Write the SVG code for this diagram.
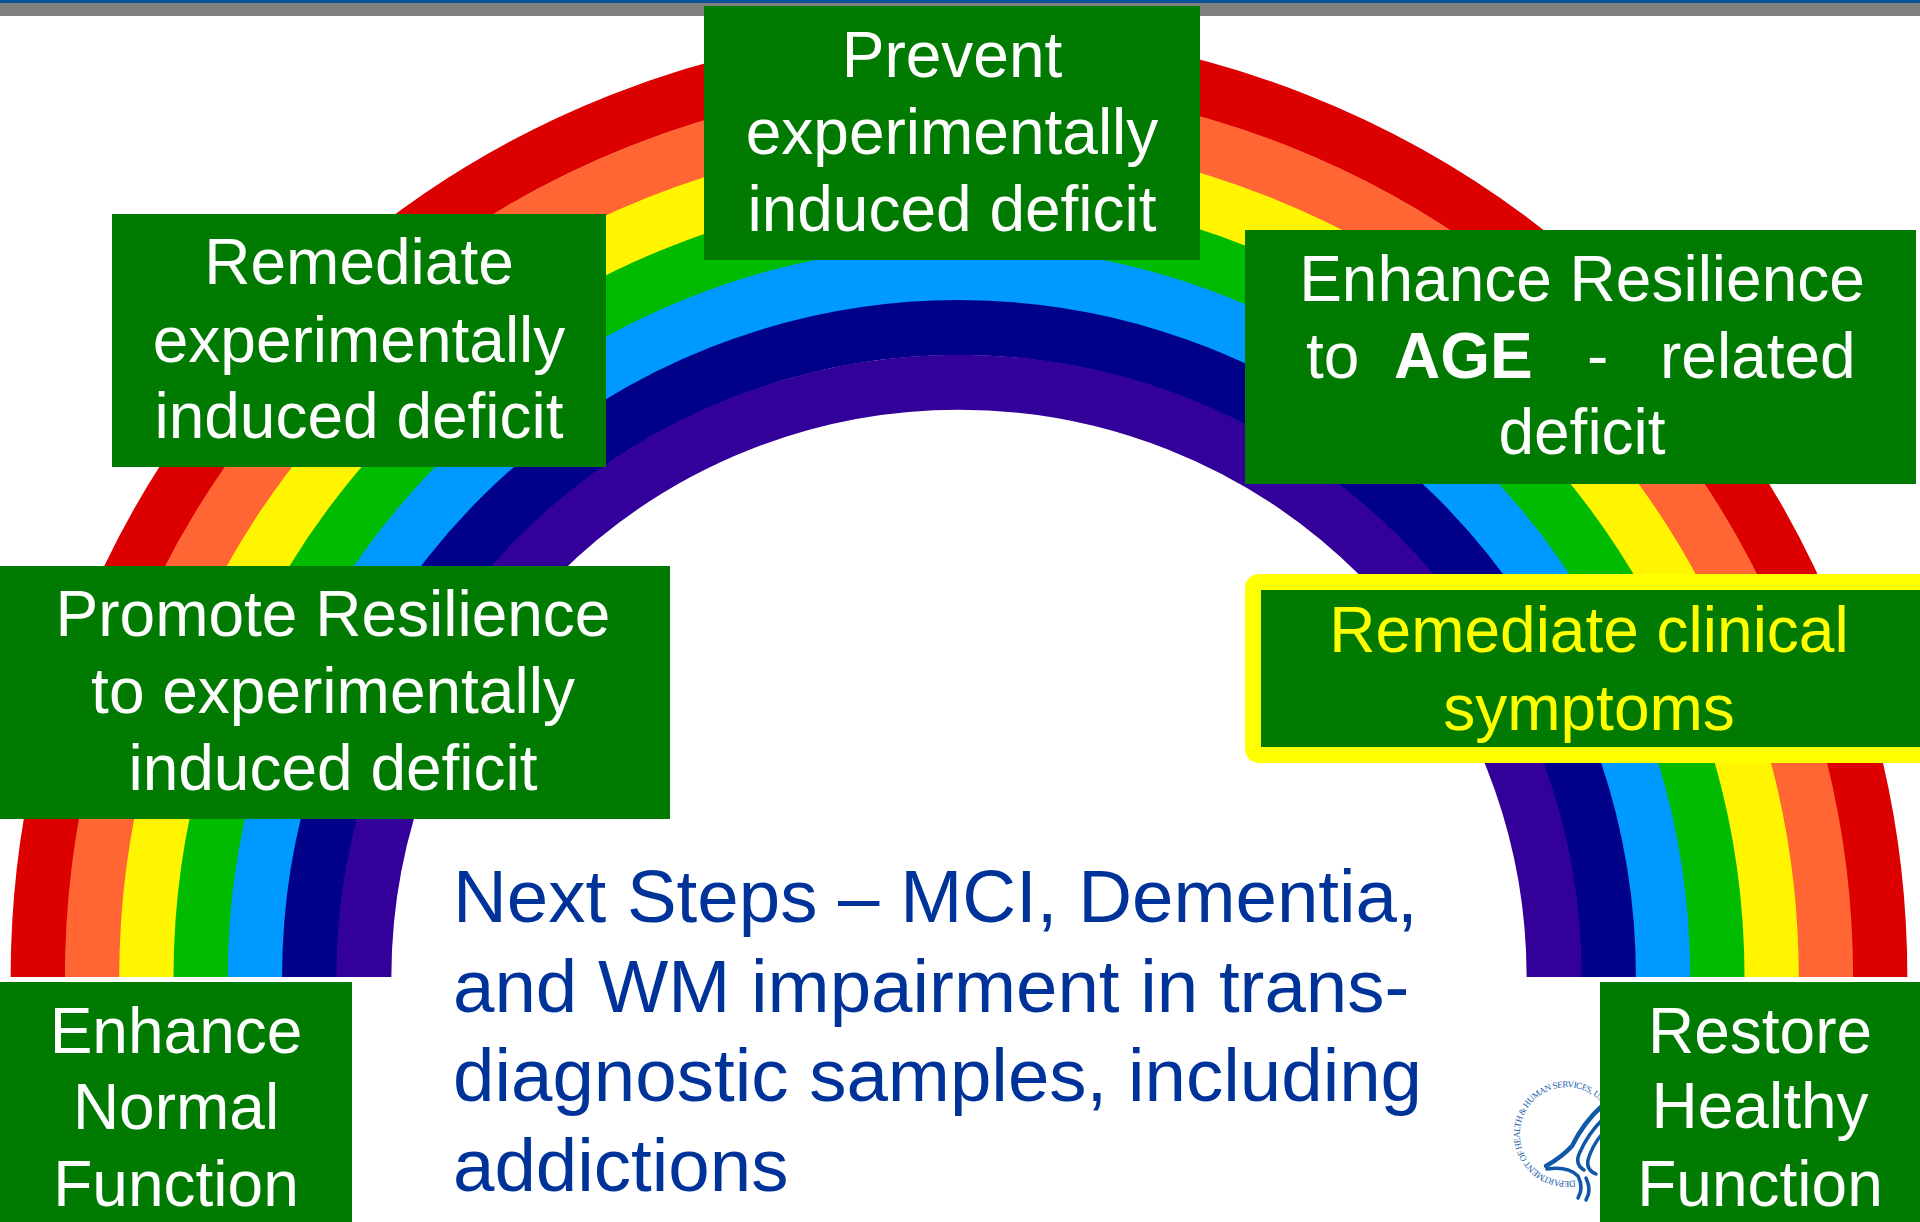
<svg xmlns="http://www.w3.org/2000/svg" width="1920" height="1222" viewBox="0 0 1920 1222">
  <defs>
    <style>
      .box { fill: #007A00; }
      .lbl { font-family: "Liberation Sans", Arial, sans-serif; font-size: 64px; fill: #FFFFFF; text-anchor: middle; }
      .lbl-y { fill: #FFFF00; }
      .band { fill: none; stroke-width: 55; stroke-linecap: butt; }
      .note { font-family: "Liberation Sans", Arial, sans-serif; font-size: 74.5px; fill: #003399; }
      .seal-text { font-family: "Liberation Serif", "Times New Roman", serif; font-size: 9px; fill: #1A5CA8; }
      .seal-line { fill: none; stroke: #0F58A8; stroke-linecap: round; stroke-linejoin: round; }
    </style>
    <path id="sealRing" d="M 1575.2 1180.3 A 47 47 0 1 1 1608 1111.5 A 47 47 0 0 1 1575.2 1180.3"/>
  </defs>

  <rect width="1920" height="1222" fill="#FFFFFF"/>

  <!-- header rule -->
  <rect x="0" y="3" width="1920" height="13" fill="#808080"/>
  <rect x="0" y="0" width="1920" height="3" fill="#0B5499"/>

  <!-- rainbow arch, outermost band first -->
  <g id="rainbow">
    <path class="band" stroke="#DD0000" d="M 38.14 977 A 920.86 920.86 0 0 1 1879.86 977"/>
    <path class="band" stroke="#FF6633" d="M 92.43 977 A 866.57 866.57 0 0 1 1825.57 977"/>
    <path class="band" stroke="#FFF500" d="M 146.71 977 A 812.29 812.29 0 0 1 1771.29 977"/>
    <path class="band" stroke="#00BB00" d="M 201 977 A 758 758 0 0 1 1717 977"/>
    <path class="band" stroke="#0099FF" d="M 255.29 977 A 703.71 703.71 0 0 1 1662.71 977"/>
    <path class="band" stroke="#000088" d="M 309.57 977 A 649.43 649.43 0 0 1 1608.43 977"/>
    <path class="band" stroke="#330099" d="M 363.86 977 A 595.14 595.14 0 0 1 1554.14 977"/>
  </g>

  <g id="connectors"/>

  <g id="prevent">
    <rect class="box" x="704" y="6" width="496" height="254"/>
    <text class="lbl" x="952" y="77">Prevent</text>
    <text class="lbl" x="952" y="154">experimentally</text>
    <text class="lbl" x="952" y="231">induced deficit</text>
  </g>

  <g id="remediate-experimental">
    <rect class="box" x="112" y="214" width="494" height="253"/>
    <text class="lbl" x="359" y="284">Remediate</text>
    <text class="lbl" x="359" y="362">experimentally</text>
    <text class="lbl" x="359" y="438">induced deficit</text>
  </g>

  <g id="enhance-resilience-age">
    <rect class="box" x="1245" y="230" width="671" height="254"/>
    <text class="lbl" x="1582" y="301">Enhance Resilience</text>
    <text class="lbl" x="1306" y="378" style="text-anchor:start">to</text>
    <text class="lbl" x="1394" y="378" style="text-anchor:start" font-weight="bold">AGE</text>
    <text class="lbl" x="1587" y="378" style="text-anchor:start">-</text>
    <text class="lbl" x="1660" y="378" style="text-anchor:start">related</text>
    <text class="lbl" x="1582" y="454">deficit</text>
  </g>

  <g id="promote-resilience">
    <rect class="box" x="0" y="566" width="670" height="253"/>
    <text class="lbl" x="333" y="636">Promote Resilience</text>
    <text class="lbl" x="333" y="713">to experimentally</text>
    <text class="lbl" x="333" y="790">induced deficit</text>
  </g>

  <g id="remediate-clinical">
    <rect x="1253" y="582" width="680" height="173" rx="6" fill="#007A00" stroke="#FFFF00" stroke-width="16"/>
    <text class="lbl lbl-y" x="1589" y="652">Remediate clinical</text>
    <text class="lbl lbl-y" x="1589" y="730">symptoms</text>
  </g>

  <g id="next-steps">
    <text class="note" x="453" y="922">Next Steps – MCI, Dementia,</text>
    <text class="note" x="453" y="1012">and WM impairment in trans-</text>
    <text class="note" x="453" y="1101">diagnostic samples, including</text>
    <text class="note" x="453" y="1191">addictions</text>
  </g>

  <g id="enhance-normal">
    <rect class="box" x="0" y="982" width="352" height="240"/>
    <text class="lbl" x="176" y="1053">Enhance</text>
    <text class="lbl" x="176" y="1129">Normal</text>
    <text class="lbl" x="176" y="1206">Function</text>
  </g>

  <!-- department seal, partly under the right-hand box -->
  <g id="seal">
    <text class="seal-text"><textPath href="#sealRing" textLength="200" lengthAdjust="spacing">DEPARTMENT OF HEALTH &amp; HUMAN SERVICES, USA</textPath></text>
    <path class="seal-line" stroke-width="4.5" d="M 1602 1106 Q 1584 1122 1572 1146 Q 1562 1157 1546 1166"/>
    <path class="seal-line" stroke-width="3.5" d="M 1602 1120 Q 1588 1134 1580 1152 Q 1574 1164 1584 1170"/>
    <path class="seal-line" stroke-width="3.5" d="M 1602 1134 Q 1592 1146 1588 1160 Q 1586 1170 1596 1174"/>
    <path class="seal-line" stroke-width="3.5" d="M 1547 1169 Q 1568 1166 1578 1176 Q 1584 1188 1578 1198"/>
    <path class="seal-line" stroke-width="3.5" d="M 1586 1178 Q 1592 1190 1586 1200"/>
  </g>

  <g id="restore-healthy">
    <rect class="box" x="1600" y="982" width="320" height="240"/>
    <text class="lbl" x="1760" y="1053">Restore</text>
    <text class="lbl" x="1760" y="1128">Healthy</text>
    <text class="lbl" x="1760" y="1206">Function</text>
  </g>
</svg>
